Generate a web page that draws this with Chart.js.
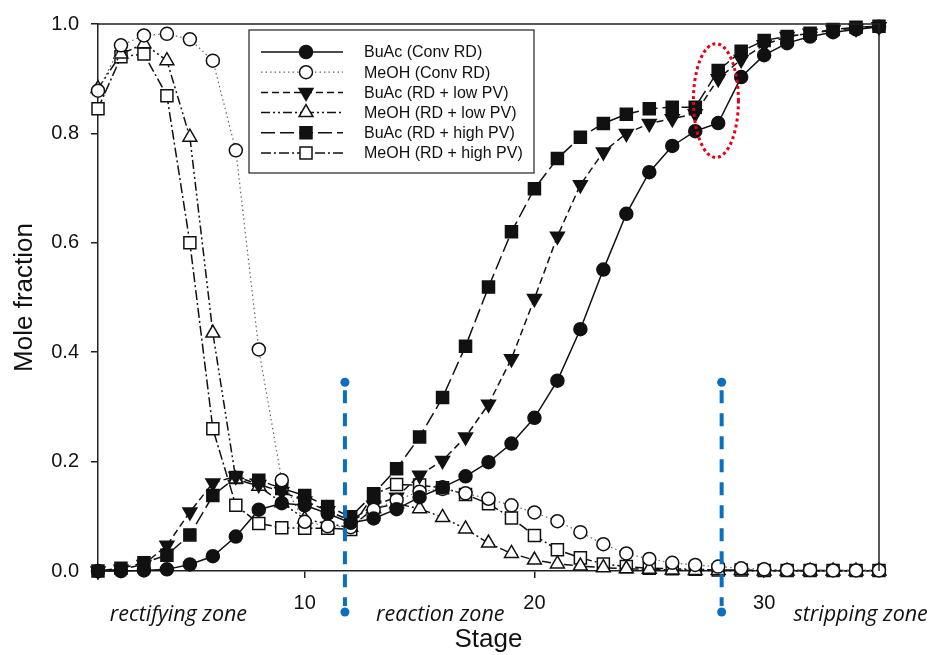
<!DOCTYPE html>
<html>
<head>
<meta charset="utf-8">
<script src="https://cdn.jsdelivr.net/npm/chart.js@4.4.1/dist/chart.umd.min.js"></script>
<style>
  html, body { margin: 0; padding: 0; background: #fff; }
  #wrap { width: 933px; height: 655px; }
</style>
</head>
<body>
<div id="wrap"><canvas id="chart" width="933" height="655"></canvas></div>
<script>
// stage numbers (column stages)
const stages = [1, 2, 3, 4, 5, 6, 7, 8, 9, 10, 11, 12, 13, 14, 15, 16, 17, 18,
  19, 20, 21, 22, 23, 24, 25, 26, 27, 28, 29, 30, 31, 32, 33, 34, 35];

// mole fractions
const buacConv = [0.000, 0.000, 0.001, 0.003, 0.012, 0.027, 0.063, 0.112, 0.124, 0.120,
  0.105, 0.088, 0.096, 0.113, 0.135, 0.153, 0.173, 0.199, 0.233, 0.280,
  0.348, 0.442, 0.551, 0.653, 0.729, 0.777, 0.804, 0.819, 0.903, 0.943,
  0.965, 0.977, 0.985, 0.990, 0.995];
const meohConv = [0.878, 0.961, 0.979, 0.982, 0.972, 0.933, 0.769, 0.405, 0.166, 0.090,
  0.082, 0.080, 0.112, 0.130, 0.145, 0.150, 0.142, 0.132, 0.120, 0.107,
  0.091, 0.071, 0.049, 0.032, 0.022, 0.015, 0.011, 0.008, 0.005, 0.003,
  0.002, 0.002, 0.001, 0.001, 0.001];
const buacLow = [0.000, 0.003, 0.012, 0.047, 0.108, 0.161, 0.173, 0.158, 0.145, 0.128,
  0.110, 0.092, 0.120, 0.135, 0.175, 0.202, 0.245, 0.305, 0.388, 0.498,
  0.612, 0.706, 0.766, 0.800, 0.818, 0.827, 0.836, 0.900, 0.935, 0.962,
  0.977, 0.983, 0.989, 0.992, 0.995];
const meohLow = [0.882, 0.945, 0.964, 0.933, 0.793, 0.435, 0.168, 0.155, 0.125, 0.095,
  0.086, 0.080, 0.114, 0.123, 0.114, 0.098, 0.077, 0.051, 0.032, 0.020,
  0.013, 0.009, 0.006, 0.004, 0.003, 0.002, 0.001, 0.001, 0.001, 0.000,
  0.000, 0.000, 0.000, 0.000, 0.000];
const buacHigh = [0.000, 0.005, 0.015, 0.029, 0.066, 0.138, 0.171, 0.166, 0.151, 0.138,
  0.118, 0.099, 0.141, 0.187, 0.245, 0.317, 0.411, 0.519, 0.620, 0.699,
  0.754, 0.793, 0.818, 0.835, 0.845, 0.848, 0.848, 0.915, 0.950, 0.970,
  0.977, 0.983, 0.990, 0.994, 0.996];
const meohHigh = [0.845, 0.940, 0.945, 0.869, 0.600, 0.260, 0.120, 0.087, 0.079, 0.078,
  0.078, 0.076, 0.140, 0.158, 0.157, 0.152, 0.140, 0.123, 0.097, 0.065,
  0.039, 0.024, 0.013, 0.008, 0.005, 0.004, 0.003, 0.002, 0.002, 0.001,
  0.001, 0.001, 0.001, 0.001, 0.001];

const seriesNames = ["BuAc (Conv RD)", "MeOH (Conv RD)", "BuAc (RD + low PV)",
  "MeOH (RD + low PV)", "BuAc (RD + high PV)", "MeOH (RD + high PV)"];
const xTicks = [10, 20, 30];
const yTicks = [0, 0.2, 0.4, 0.6, 0.8, 1.0];

// zone boundaries (stage) and labels
const zoneBounds = [11.75, 28.15];
const zoneLabels = ["rectifying zone", "reaction zone", "stripping zone"];
const zoneLabelPos = [4.5, 15.9, 34.2];

function pts(vals) {
  return stages.map((s, i) => ({ x: s, y: vals[i] }));
}

function makeSet(label, vals, style) {
  return Object.assign({
    label: label,
    data: pts(vals),
    borderColor: "#111",
    borderWidth: 1.5,
    pointBorderColor: "#111",
    pointBorderWidth: 1.5,
    tension: 0,
    clip: false,
  }, style);
}

const datasets = [
  makeSet(seriesNames[0], buacConv, { borderDash: [], pointStyle: "circle", pointRadius: 6.5, pointBackgroundColor: "#111" }),
  makeSet(seriesNames[1], meohConv, { borderDash: [1.5, 3], borderColor: "#666", borderWidth: 1.2, pointStyle: "circle", pointRadius: 6.5, pointBackgroundColor: "#fff" }),
  makeSet(seriesNames[2], buacLow, { borderDash: [7, 4], pointStyle: "triangle", pointRotation: 180, pointRadius: 8, pointBackgroundColor: "#111" }),
  makeSet(seriesNames[3], meohLow, { borderDash: [9, 3, 2, 3, 2, 3], pointStyle: "triangle", pointRadius: 8, pointBackgroundColor: "#fff" }),
  makeSet(seriesNames[4], buacHigh, { borderDash: [14, 5], pointStyle: "rect", pointRadius: 8.5, pointBackgroundColor: "#111" }),
  makeSet(seriesNames[5], meohHigh, { borderDash: [10, 3, 2, 3], pointStyle: "rect", pointRadius: 8.5, pointBackgroundColor: "#fff" }),
];

const FONT = "Arial, 'Liberation Sans', sans-serif";

// frame, zone markers, red ellipse, legend
const extras = {
  id: "extras",
  afterDraw(chart) {
    const ctx = chart.ctx;
    const a = chart.chartArea;
    const x = chart.scales.x, y = chart.scales.y;
    ctx.save();

    // top and right frame lines
    ctx.strokeStyle = "#222";
    ctx.lineWidth = 1.5;
    ctx.setLineDash([]);
    ctx.beginPath();
    ctx.moveTo(a.left, a.top);
    ctx.lineTo(a.right, a.top);
    ctx.lineTo(a.right, a.bottom);
    ctx.stroke();

    // blue dashed zone boundaries
    zoneBounds.forEach(v => {
      const px = x.getPixelForValue(v);
      const yTop = y.getPixelForValue(0.345);
      const yBot = y.getPixelForValue(-0.075);
      ctx.strokeStyle = "#0b6fc0";
      ctx.fillStyle = "#0b6fc0";
      ctx.lineWidth = 4;
      ctx.setLineDash([13, 10]);
      ctx.beginPath();
      ctx.moveTo(px, yTop + 8);
      ctx.lineTo(px, yBot - 6);
      ctx.stroke();
      ctx.setLineDash([]);
      [yTop, yBot].forEach(py => {
        ctx.beginPath();
        ctx.arc(px, py, 4.5, 0, Math.PI * 2);
        ctx.fill();
      });
    });

    // red dotted ellipse
    const cx = x.getPixelForValue(27.9), cy = y.getPixelForValue(0.86);
    const rx = x.getPixelForValue(27.9 + 0.98) - cx;
    const ry = cy - y.getPixelForValue(0.86 + 0.104);
    ctx.strokeStyle = "#e3001b";
    ctx.lineWidth = 3;
    ctx.setLineDash([3, 3]);
    ctx.beginPath();
    ctx.ellipse(cx, cy, rx, ry, 0, 0, Math.PI * 2);
    ctx.stroke();
    ctx.setLineDash([]);

    // zone labels
    ctx.fillStyle = "#111";
    ctx.font = "italic 21.5px 'Open Sans', 'Noto Sans', sans-serif";
    ctx.textAlign = "center";
    ctx.textBaseline = "middle";
    zoneLabels.forEach((t, i) => {
      ctx.fillText(t, x.getPixelForValue(zoneLabelPos[i]), y.getPixelForValue(-0.08));
    });

    // legend
    const bx = 249, by = 30, bw = 285, bh = 143;
    ctx.fillStyle = "#fff";
    ctx.fillRect(bx, by, bw, bh);
    ctx.strokeStyle = "#222";
    ctx.lineWidth = 1.2;
    ctx.strokeRect(bx, by, bw, bh);
    chart.data.datasets.forEach((ds, i) => {
      const ly = by + 22 + i * 20.2;
      ctx.strokeStyle = ds.borderColor;
      ctx.lineWidth = ds.borderWidth;
      ctx.setLineDash(ds.borderDash);
      ctx.beginPath();
      ctx.moveTo(bx + 12, ly);
      ctx.lineTo(bx + 94, ly);
      ctx.stroke();
      ctx.setLineDash([]);
      ctx.fillStyle = ds.pointBackgroundColor;
      ctx.strokeStyle = ds.pointBorderColor;
      ctx.lineWidth = ds.pointBorderWidth;
      Chart.helpers.drawPoint(ctx, {
        pointStyle: ds.pointStyle,
        rotation: ds.pointRotation || 0,
        radius: ds.pointRadius,
        borderWidth: ds.pointBorderWidth,
      }, bx + 57, ly);
      ctx.fillStyle = "#111";
      ctx.font = "16px " + FONT;
      ctx.textAlign = "left";
      ctx.textBaseline = "middle";
      ctx.fillText(ds.label, bx + 115, ly + 1);
    });

    ctx.restore();
  }
};

const ctx = document.getElementById("chart").getContext("2d");
const chart = new Chart(ctx, {
  type: "line",
  data: { datasets: datasets },
  options: {
    responsive: false,
    animation: false,
    layout: { padding: { top: 24, right: 54, left: 0, bottom: 0 } },
    plugins: {
      legend: { display: false },
      tooltip: { enabled: false },
    },
    scales: {
      x: {
        type: "linear",
        min: 1,
        max: 35,
        afterBuildTicks: s => { s.ticks = xTicks.map(v => ({ value: v })); },
        afterFit: s => { s.height = 84; },
        grid: { display: true, drawOnChartArea: false, drawTicks: true, tickLength: 7, color: "#222", lineWidth: 1.5 },
        border: { display: true, color: "#222", width: 1.5 },
        ticks: { color: "#111", font: { family: FONT, size: 20 }, padding: 13, maxRotation: 0 },
        title: { display: true, text: "Stage", color: "#111", font: { family: FONT, size: 26 }, padding: { top: 0, bottom: 0 } },
      },
      y: {
        type: "linear",
        min: 0,
        max: 1,
        afterBuildTicks: s => { s.ticks = yTicks.map(v => ({ value: v })); },
        afterFit: s => { s.width = 98; },
        grid: { display: true, drawOnChartArea: false, drawTicks: true, tickLength: 7, color: "#222", lineWidth: 1.5 },
        border: { display: true, color: "#222", width: 1.5 },
        ticks: { color: "#111", font: { family: FONT, size: 20 }, padding: 12, callback: v => v.toFixed(1) },
        title: { display: true, text: "Mole fraction", color: "#111", font: { family: FONT, size: 26 }, padding: { top: 9, bottom: 0 } },
      },
    },
  },
  plugins: [extras],
});
</script>
</body>
</html>
